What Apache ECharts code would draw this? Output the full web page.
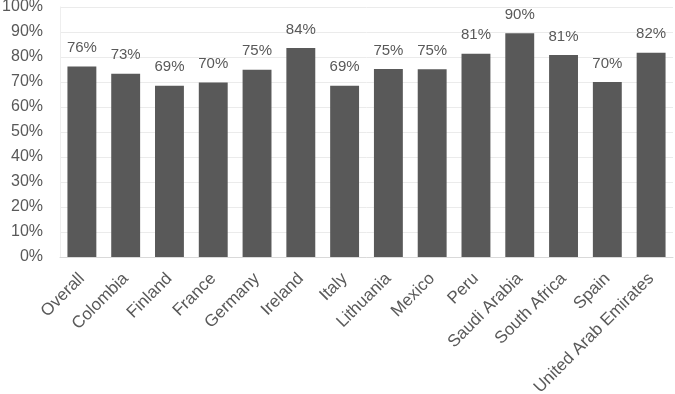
<!DOCTYPE html>
<html>
<head>
<meta charset="utf-8">
<script src="https://cdn.jsdelivr.net/npm/echarts@6/dist/echarts.min.js"></script>
<style>
  html, body { margin: 0; padding: 0; background: #fff; }
  #chart { width: 675px; height: 394px; }
</style>
</head>
<body>
<div id="chart"></div>
<script>
// 国家 / 数值
let categories = ['Overall', 'Colombia', 'Finland', 'France', 'Germany', 'Ireland', 'Italy',
    'Lithuania', 'Mexico', 'Peru', 'Saudi Arabia', 'South Africa', 'Spain', 'United Arab Emirates'];
let values = [76.2, 73.3, 68.5, 69.8, 74.9, 83.6, 68.5, 75.2, 75.1, 81.3, 89.5, 80.8, 70.0, 81.7];
let yTicks = [0, 10, 20, 30, 40, 50, 60, 70, 80, 90, 100];

let myChart = echarts.init(document.getElementById('chart'));
let textColor = '#595959';
let font = 'Helvetica, Arial, "Liberation Sans", sans-serif';
let option = {
    animation: false,
    grid: {
        left: 60,
        right: 2,
        top: 7,
        bottom: 137,
        outerBoundsMode: 'none',
        containLabel: false,
    },
    xAxis: {
        type: 'category',
        data: categories,
        axisLine: { lineStyle: { color: '#d9d9d9' } },
        axisTick: { show: false },
        axisLabel: {
            interval: 0,
            rotate: 45,
            color: textColor,
            fontSize: 17,
            fontFamily: font,
            margin: 19,
        },
    },
    yAxis: {
        type: 'value',
        min: yTicks[0],
        max: yTicks[yTicks.length - 1],
        interval: 10,
        axisLine: { show: true, lineStyle: { color: '#eeeeee' } },
        axisLabel: {
            formatter: '{value}%',
            color: textColor,
            fontSize: 16,
            fontFamily: font,
            margin: 17,
        },
        splitLine: { lineStyle: { color: '#ebebeb' } },
    },
    series: [{
        type: 'bar',
        data: values,
        barWidth: '66%',
        itemStyle: { color: '#595959' },
        label: {
            show: true,
            position: 'top',
            distance: 11,
            color: textColor,
            fontSize: 15,
            fontFamily: font,
            formatter: function(p) {
                return Math.round(p.value) + '%';
            },
        },
    }],
};
myChart.setOption(option);
</script>
</body>
</html>
